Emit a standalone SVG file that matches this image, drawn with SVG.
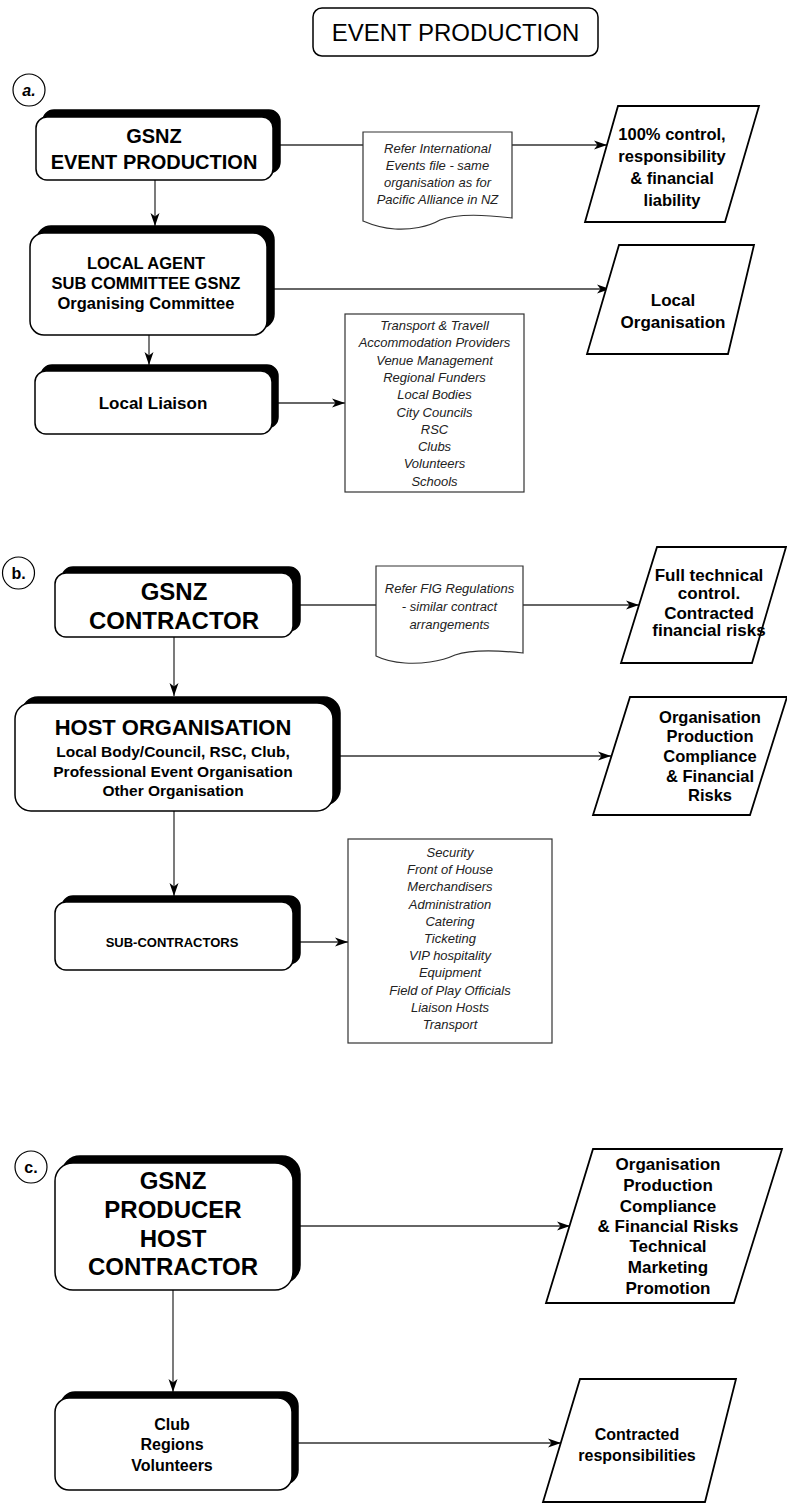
<svg xmlns="http://www.w3.org/2000/svg" width="787" height="1503" viewBox="0 0 787 1503">
<defs>
<style>
.bx{fill:#fff;stroke:#000;stroke-width:1.5}
.sh{fill:#000;stroke:#000;stroke-width:1.5}
.pg{fill:#fff;stroke:#000;stroke-width:1.8}
.nt{fill:#fff;stroke:#333;stroke-width:1.2}
.ci{fill:#fff;stroke:#000;stroke-width:1.2}
.cn{fill:none;stroke:#333;stroke-width:1.3;marker-end:url(#ah)}
.ln{fill:none;stroke:#333;stroke-width:1.3}
text{font-family:"Liberation Sans",Arial,sans-serif;fill:#000;text-anchor:middle}
.b{font-weight:bold}
.it{font-style:italic;font-size:13px;fill:#222}
</style>
<marker id="ah" markerUnits="userSpaceOnUse" markerWidth="14" markerHeight="10" refX="13" refY="5" orient="auto">
<path d="M0,0.5 L13,5 L0,9.5 L3.5,5 z" fill="#000"/>
</marker>
</defs>

<g id="title">
<rect x="313" y="8" width="285" height="48" rx="9" class="bx"/>
<text x="455.5" y="41" font-size="24">EVENT PRODUCTION</text>
</g>

<g id="connectors">
<line x1="280" y1="145" x2="363" y2="145" class="ln"/>
<line x1="512" y1="145" x2="607" y2="145" class="cn"/>
<line x1="155" y1="180" x2="155" y2="226" class="cn"/>
<line x1="273" y1="289" x2="610" y2="289" class="cn"/>
<line x1="149" y1="335" x2="149" y2="365" class="cn"/>
<line x1="277" y1="403" x2="345" y2="403" class="cn"/>
<line x1="300" y1="605" x2="376" y2="605" class="ln"/>
<line x1="523" y1="605" x2="639" y2="605" class="cn"/>
<line x1="174" y1="637" x2="174" y2="696" class="cn"/>
<line x1="340" y1="756" x2="611" y2="756" class="cn"/>
<line x1="174" y1="811" x2="174" y2="896" class="cn"/>
<line x1="300" y1="942" x2="348" y2="942" class="cn"/>
<line x1="300" y1="1226" x2="570" y2="1226" class="cn"/>
<line x1="173" y1="1290" x2="173" y2="1392" class="cn"/>
<line x1="298" y1="1443" x2="561" y2="1443" class="cn"/>
</g>

<g id="label-a">
<circle cx="29" cy="90" r="16" class="ci"/>
<text x="29" y="96" font-size="16" class="b" font-style="italic">a.</text>
</g>

<g id="gsnz-event-production">
<rect x="43" y="110" width="237" height="63" rx="11" class="sh"/>
<rect x="36" y="117" width="237" height="63" rx="11" class="bx"/>
<text x="154" y="143" font-size="20" class="b">GSNZ</text>
<text x="154" y="169" font-size="20" class="b">EVENT PRODUCTION</text>
</g>

<g id="note-a">
<path d="M363,132 H512 V218 C480,214 455,214 440,220 C428,227 410,230 395,229 C380,228 370,224 363,221 Z" class="nt"/>
<text x="437.5" y="153" class="it">Refer International</text>
<text x="437.5" y="170" class="it">Events file - same</text>
<text x="437.5" y="187" class="it">organisation as for</text>
<text x="437.5" y="204" class="it">Pacific Alliance in NZ</text>
</g>

<g id="pg-control">
<polygon points="618,106 759,106 725,222 585,222" class="pg"/>
<text x="672" y="140" font-size="16.5" class="b">100% control,</text>
<text x="672" y="162" font-size="16.5" class="b">responsibility</text>
<text x="672" y="184" font-size="16.5" class="b">&amp; financial</text>
<text x="672" y="206" font-size="16.5" class="b">liability</text>
</g>

<g id="local-agent">
<rect x="37" y="226" width="237" height="102" rx="14" class="sh"/>
<rect x="30" y="233" width="237" height="102" rx="14" class="bx"/>
<text x="146" y="269" font-size="16.5" class="b">LOCAL AGENT</text>
<text x="146" y="289" font-size="16.5" class="b">SUB COMMITTEE GSNZ</text>
<text x="146" y="309" font-size="16.5" class="b">Organising Committee</text>
</g>

<g id="pg-local-org">
<polygon points="619,245 754,245 728,354 587,354" class="pg"/>
<text x="673" y="306" font-size="17" class="b">Local</text>
<text x="673" y="328" font-size="17" class="b">Organisation</text>
</g>

<g id="local-liaison">
<rect x="41" y="365" width="237" height="63" rx="11" class="sh"/>
<rect x="35" y="371" width="237" height="63" rx="11" class="bx"/>
<text x="153" y="409" font-size="17" class="b">Local Liaison</text>
</g>

<g id="list-a">
<rect x="345" y="314" width="179" height="178" class="nt"/>
<text x="434.5" y="330" class="it">Transport &amp; Travell</text>
<text x="434.5" y="347.3" class="it">Accommodation Providers</text>
<text x="434.5" y="364.6" class="it">Venue Management</text>
<text x="434.5" y="381.9" class="it">Regional Funders</text>
<text x="434.5" y="399.2" class="it">Local Bodies</text>
<text x="434.5" y="416.5" class="it">City Councils</text>
<text x="434.5" y="433.8" class="it">RSC</text>
<text x="434.5" y="451.1" class="it">Clubs</text>
<text x="434.5" y="468.4" class="it">Volunteers</text>
<text x="434.5" y="485.7" class="it">Schools</text>
</g>

<g id="label-b">
<circle cx="18.5" cy="573" r="16" class="ci"/>
<text x="18.5" y="579" font-size="16" class="b">b.</text>
</g>

<g id="gsnz-contractor">
<rect x="62" y="567" width="238" height="64" rx="11" class="sh"/>
<rect x="55" y="573" width="238" height="64" rx="11" class="bx"/>
<text x="174" y="600" font-size="24" class="b">GSNZ</text>
<text x="174" y="629" font-size="24" class="b">CONTRACTOR</text>
</g>

<g id="note-b">
<path d="M376,566 H523 V653 C495,650 470,650 455,655 C440,662 420,664 405,663 C390,662 382,659 376,656 Z" class="nt"/>
<text x="449.5" y="593" class="it">Refer FIG Regulations</text>
<text x="449.5" y="611" class="it">- similar contract</text>
<text x="449.5" y="629" class="it">arrangements</text>
</g>

<g id="pg-technical">
<polygon points="657,547 786,547 752,663 621,663" class="pg"/>
<text x="709" y="581" font-size="17" class="b">Full technical</text>
<text x="709" y="599" font-size="17" class="b">control.</text>
<text x="709" y="619" font-size="17" class="b">Contracted</text>
<text x="709" y="636" font-size="17" class="b">financial risks</text>
</g>

<g id="host-organisation">
<rect x="22" y="697" width="318" height="108" rx="16" class="sh"/>
<rect x="15" y="703" width="318" height="108" rx="16" class="bx"/>
<text x="173" y="735" font-size="22" class="b">HOST ORGANISATION</text>
<text x="173" y="757" font-size="15.5" class="b">Local Body/Council, RSC, Club,</text>
<text x="173" y="777" font-size="15.5" class="b">Professional Event Organisation</text>
<text x="173" y="796" font-size="15.5" class="b">Other Organisation</text>
</g>

<g id="pg-org-b">
<polygon points="630,697 787,697 750,815 593,815" class="pg"/>
<text x="710" y="723" font-size="16.5" class="b">Organisation</text>
<text x="710" y="742" font-size="16.5" class="b">Production</text>
<text x="710" y="762" font-size="16.5" class="b">Compliance</text>
<text x="710" y="782" font-size="16.5" class="b">&amp; Financial</text>
<text x="710" y="801" font-size="16.5" class="b">Risks</text>
</g>

<g id="sub-contractors">
<rect x="62" y="896" width="238" height="68" rx="11" class="sh"/>
<rect x="55" y="902" width="238" height="68" rx="11" class="bx"/>
<text x="172" y="947" font-size="13" class="b">SUB-CONTRACTORS</text>
</g>

<g id="list-b">
<rect x="348" y="839" width="204" height="204" class="nt"/>
<text x="450" y="857" class="it">Security</text>
<text x="450" y="874.2" class="it">Front of House</text>
<text x="450" y="891.4" class="it">Merchandisers</text>
<text x="450" y="908.6" class="it">Administration</text>
<text x="450" y="925.8" class="it">Catering</text>
<text x="450" y="943" class="it">Ticketing</text>
<text x="450" y="960.2" class="it">VIP hospitality</text>
<text x="450" y="977.4" class="it">Equipment</text>
<text x="450" y="994.6" class="it">Field of Play Officials</text>
<text x="450" y="1011.8" class="it">Liaison Hosts</text>
<text x="450" y="1029" class="it">Transport</text>
</g>

<g id="label-c">
<circle cx="31" cy="1167" r="16" class="ci"/>
<text x="31" y="1173" font-size="16" class="b">c.</text>
</g>

<g id="gsnz-producer">
<rect x="62" y="1156" width="238" height="127" rx="18" class="sh"/>
<rect x="55" y="1163" width="238" height="127" rx="18" class="bx"/>
<text x="173" y="1189" font-size="24" class="b">GSNZ</text>
<text x="173" y="1218" font-size="24" class="b">PRODUCER</text>
<text x="173" y="1247" font-size="24" class="b">HOST</text>
<text x="173" y="1275" font-size="24" class="b">CONTRACTOR</text>
</g>

<g id="pg-org-c">
<polygon points="593,1149 782,1149 734,1303 546,1303" class="pg"/>
<text x="668" y="1170" font-size="17" class="b">Organisation</text>
<text x="668" y="1191" font-size="17" class="b">Production</text>
<text x="668" y="1212" font-size="17" class="b">Compliance</text>
<text x="668" y="1232" font-size="17" class="b">&amp; Financial Risks</text>
<text x="668" y="1252" font-size="17" class="b">Technical</text>
<text x="668" y="1273" font-size="17" class="b">Marketing</text>
<text x="668" y="1294" font-size="17" class="b">Promotion</text>
</g>

<g id="club-regions">
<rect x="61" y="1392" width="237" height="92" rx="14" class="sh"/>
<rect x="55" y="1398" width="237" height="92" rx="14" class="bx"/>
<text x="172" y="1430" font-size="16" class="b">Club</text>
<text x="172" y="1450" font-size="16" class="b">Regions</text>
<text x="172" y="1471" font-size="16" class="b">Volunteers</text>
</g>

<g id="pg-contracted">
<polygon points="580,1379 736,1379 705,1502 543,1502" class="pg"/>
<text x="637" y="1440" font-size="16" class="b">Contracted</text>
<text x="637" y="1461" font-size="16" class="b">responsibilities</text>
</g>
</svg>
